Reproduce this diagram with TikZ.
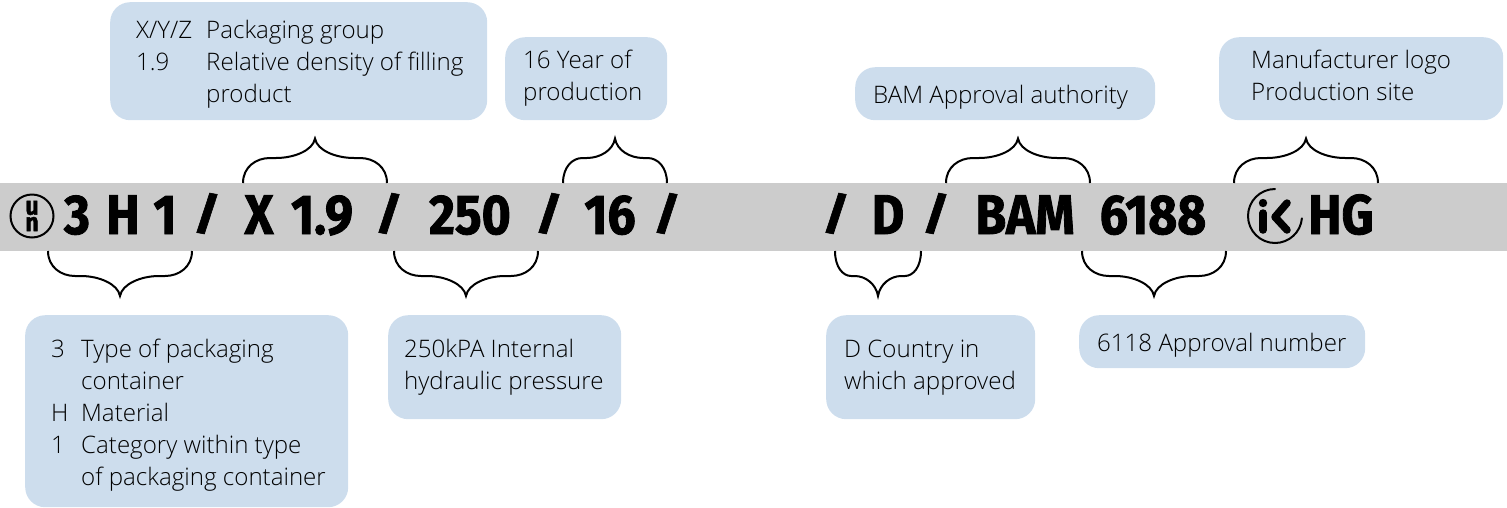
\documentclass[tikz,border=0pt]{standalone}
\usepackage{fontspec}
\setmainfont{Open Sans Light}
\newfontfamily\stampfont[FakeStretch=0.89,FakeBold=1.5]{Fira Sans Bold}
\newfontfamily\slashfont[FakeStretch=1.25,FakeBold=1.5]{Fira Sans Bold}
\usetikzlibrary{calc}
\definecolor{boxblue}{HTML}{CDDDED}
\definecolor{bandgrey}{HTML}{CCCCCC}
\newcommand{\uprow}[3]{%
  \pgfmathsetmacro{\wf}{(#3-#2)/144}
  \coordinate (#1l) at (#2,183);\coordinate (#1r) at (#3,183);
  \coordinate (#1t) at ({(#2+#3)/2},138.5);
  \path (#1l) ++({27*\wf},-25) coordinate (#1a) ++({6*\wf},0) coordinate (#1b);
  \path (#1r) ++({-27*\wf},-25) coordinate (#1d) ++({-6*\wf},0) coordinate (#1c);
  \draw[bracket] (#1l) .. controls +(0,-16) and +({-14*\wf},0) .. (#1a) -- (#1b)
    .. controls +({18*\wf},0) and +(-2,12) .. (#1t)
    .. controls +(2,12) and +({-18*\wf},0) .. (#1c) -- (#1d)
    .. controls +({14*\wf},0) and +(0,-16) .. (#1r);}
\newcommand{\downrow}[3]{%
  \pgfmathsetmacro{\wf}{(#3-#2)/144}
  \coordinate (#1l) at (#2,251);\coordinate (#1r) at (#3,251);
  \coordinate (#1t) at ({(#2+#3)/2},296);
  \path (#1l) ++({27*\wf},25) coordinate (#1a) ++({6*\wf},0) coordinate (#1b);
  \path (#1r) ++({-27*\wf},25) coordinate (#1d) ++({-6*\wf},0) coordinate (#1c);
  \draw[bracket] (#1l) .. controls +(0,16) and +({-14*\wf},0) .. (#1a) -- (#1b)
    .. controls +({18*\wf},0) and +(-2,-12) .. (#1t)
    .. controls +(2,-12) and +({-18*\wf},0) .. (#1c) -- (#1d)
    .. controls +({14*\wf},0) and +(0,16) .. (#1r);}
\tikzset{
  x=1pt,y=-1pt,
  bracket/.style={draw=black,line width=2pt},
  stamp/.style={font=\stampfont\fontsize{56}{56}\selectfont,text=black,inner sep=0pt,anchor=base},
  slash/.style={font=\slashfont\fontsize{44}{44}\selectfont,text=black,inner sep=0pt,anchor=base},
  stampsmall/.style={font=\stampfont\fontsize{26}{16.5}\selectfont,text=black,inner sep=0pt,align=center},
  logoline/.style={draw=black,line width=7.5pt,line cap=round,line join=round},
  infobox/.style={fill=boxblue,rounded corners=20pt,anchor=north west,inner sep=0pt},
  boxtext/.style={anchor=north west,inner sep=0pt,font=\fontsize{24.1}{32}\selectfont,text=black},
}
\newcommand{\rows}[1]{\begin{tabular}{@{}l@{}}#1\end{tabular}}
\begin{document}
\begin{tikzpicture}
\useasboundingbox (0,0) rectangle (1507,507);
\fill[bandgrey] (0,183) rectangle (1507,251);
% stamp text
\node[stamp] (s3) at (77,234) {3};
\node[stamp] (sH) at (123,234) {H};
\node[stamp] (s1) at (165,234) {1};
\node[slash] (sa) at (207,229) {/};
\node[stamp] (sX) at (259,234) {X};
\node[stamp] (s19) at (322,234) {1.9};
\node[slash] (sb) at (389,229) {/};
\node[stamp] (s250) at (470,234) {250};
\node[slash] (sc) at (549,229) {/};
\node[stamp] (s16) at (610,234) {16};
\node[slash] (sd) at (667,229) {/};
\node[slash] (se) at (836,229) {/};
\node[stamp] (sD) at (888,234) {D};
\node[slash] (sf) at (936,229) {/};
\node[stamp] (sBAM) at (1025,234) {BAM};
\node[stamp] (s6188) at (1153,234) {6188};
\node[stamp] (sHG) at (1341,234) {HG};
% un logo
\draw[line width=2pt] (32,216) circle (21.5);
\node[stampsmall] (lun) at (32,216) {u\\n};
% ik logo
\draw[line width=2pt,line cap=round] (1275,189) arc[start angle=-90,end angle=-355,radius=27];
\fill (1263,203) circle (4.2);
\draw[logoline] (1263,213) -- (1263,230);
\draw[logoline] (1287,203) -- (1275,217) -- (1287,230);
% brackets
\uprow{ua}{243}{387}
\uprow{ub}{563}{667}
\uprow{uc}{946}{1090}
\uprow{ud}{1234}{1378}
\downrow{da}{48}{192}
\downrow{db}{394}{538}
\downrow{dc}{835}{921}
\downrow{dd}{1082}{1226}
% boxes
\node[infobox,minimum width=377pt,minimum height=118pt] (b1) at (110,2) {};
\node[infobox,minimum width=162pt,minimum height=83pt] (b2) at (505,37) {};
\node[infobox,minimum width=300pt,minimum height=53pt] (b3) at (855,67) {};
\node[infobox,minimum width=284pt,minimum height=83pt] (b4) at (1219,37) {};
\node[infobox,minimum width=323pt,minimum height=192pt] (b5) at (25,315) {};
\node[infobox,minimum width=233pt,minimum height=104pt] (b6) at (388,315) {};
\node[infobox,minimum width=209pt,minimum height=104pt] (b7) at (826,315) {};
\node[infobox,minimum width=286pt,minimum height=53pt] (b8) at (1079,315) {};
% box texts
\node[boxtext] (t1) at (136,15.6) {\begin{tabular}{@{}p{70pt}@{}l@{}}X/Y/Z&Packaging group\\1.9&Relative density of filling\\&product\end{tabular}};
\node[boxtext] (t2) at (523,45.6) {\rows{16 Year of\\production}};
\node[boxtext] (t3) at (873,80.6) {\rows{BAM Approval authority}};
\node[boxtext] (t4) at (1251,45.6) {\rows{Manufacturer logo\\Production site}};
\node[boxtext] (t5) at (51,334.6) {\begin{tabular}{@{}p{30pt}@{}l@{}}3&Type of packaging\\&container\\H&Material\\1&Category within type\\&of packaging container\end{tabular}};
\node[boxtext] (t6) at (404,334.6) {\rows{250kPA Internal\\hydraulic pressure}};
\node[boxtext] (t7) at (844,334.6) {\rows{D Country in\\which approved}};
\node[boxtext] (t8) at (1097,328.6) {\rows{6118 Approval number}};
\end{tikzpicture}
\end{document}
